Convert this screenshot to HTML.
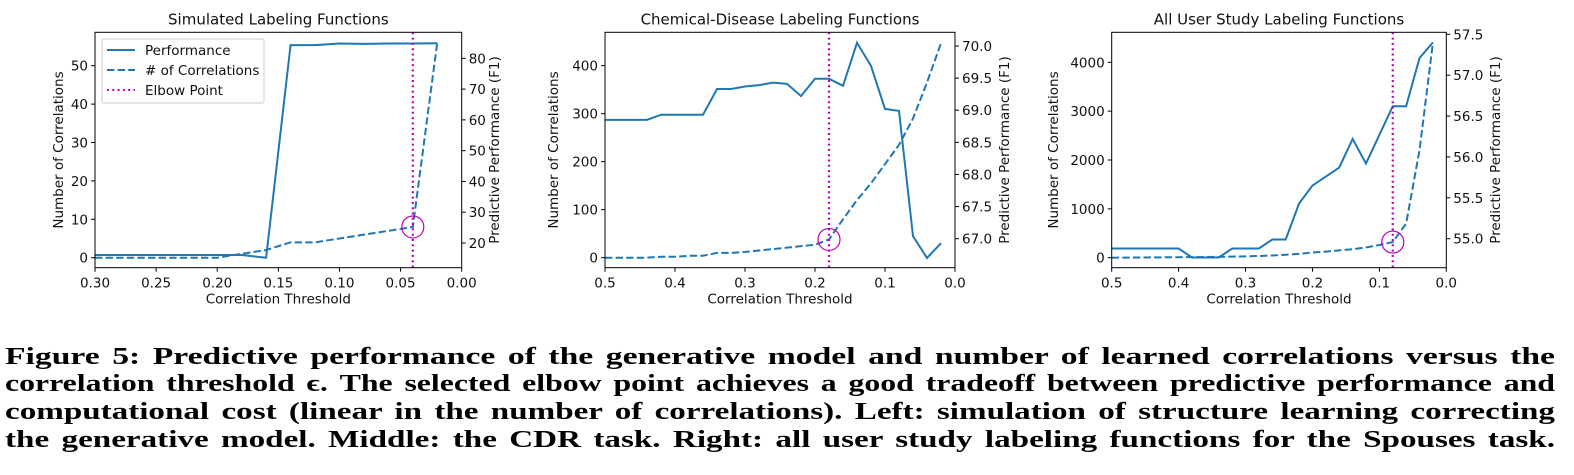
<!DOCTYPE html>
<html><head><meta charset="utf-8">
<style>
html,body{margin:0;padding:0;background:#fff;width:1574px;height:475px;overflow:hidden}
svg{position:absolute;left:0;top:0}
.cap{position:absolute;left:5px;font-family:"Liberation Serif",serif;font-weight:bold;font-size:24.5px;white-space:nowrap;line-height:28px;word-spacing:3px;transform-origin:0 0}
text{font-family:"DejaVu Sans","Liberation Sans",sans-serif;fill:#111}
</style></head><body>
<svg id="chart" width="1574" height="330"></svg>
<div class="cap" style="top:343px">Figure 5: Predictive performance of the generative model and number of learned correlations versus the</div>
<div class="cap" style="top:370px">correlation threshold ϵ. The selected elbow point achieves a good tradeoff between predictive performance and</div>
<div class="cap" style="top:398px">computational cost (linear in the number of correlations). Left: simulation of structure learning correcting</div>
<div class="cap" style="top:426px">the generative model. Middle: the CDR task. Right: all user study labeling functions for the Spouses task.</div>
<script>
// Panel 1 data
const p1Thresholds=[0.30,0.28,0.26,0.24,0.22,0.20,0.18,0.16,0.14,0.12,0.10,0.08,0.06,0.04,0.02];
const p1Performance=[16.1,16.1,16.1,16.1,16.1,16.1,16.1,15.2,84.3,84.3,84.8,84.7,84.8,84.8,84.9];
const p1Correlations=[0,0,0,0,0,0,1,2,4,4,5,6,7,8,56];
const p1LeftTicks=[0,10,20,30,40,50];
const p1RightTicks=[20,30,40,50,60,70,80];
const p1XTicks=[0.30,0.25,0.20,0.15,0.10,0.05,0.00];
const p1Elbow=0.04;
// Panel 2 data
const p2Thresholds=[0.50,0.48,0.46,0.44,0.42,0.40,0.38,0.36,0.34,0.32,0.30,0.28,0.26,0.24,0.22,0.20,0.18,0.16,0.14,0.12,0.10,0.08,0.06,0.04,0.02];
const p2Performance=[68.85,68.85,68.85,68.85,68.93,68.93,68.93,68.93,69.33,69.33,69.37,69.39,69.43,69.41,69.22,69.49,69.49,69.38,70.05,69.69,69.02,68.99,67.04,66.70,66.93];
const p2Correlations=[0,0,0,0,2,2,4,4,10,10,12,15,18,21,24,27,38,80,120,155,195,235,290,365,447];
const p2LeftTicks=[0,100,200,300,400];
const p2RightTicks=[67.0,67.5,68.0,68.5,69.0,69.5,70.0];
const p2XTicks=[0.5,0.4,0.3,0.2,0.1,0.0];
const p2Elbow=0.18;
// Panel 3 data
const p3Thresholds=[0.50,0.48,0.46,0.44,0.42,0.40,0.38,0.36,0.34,0.32,0.30,0.28,0.26,0.24,0.22,0.20,0.18,0.16,0.14,0.12,0.10,0.08,0.06,0.04,0.02];
const p3Performance=[54.88,54.88,54.88,54.88,54.88,54.88,54.77,54.77,54.77,54.88,54.88,54.88,54.99,54.99,55.43,55.65,55.76,55.87,56.22,55.92,56.27,56.62,56.62,57.21,57.40];
const p3Correlations=[0,2,4,6,8,10,12,15,18,22,28,35,45,60,80,105,125,150,175,210,260,320,700,2200,4400];
const p3LeftTicks=[0,1000,2000,3000,4000];
const p3RightTicks=[55.0,55.5,56.0,56.5,57.0,57.5];
const p3XTicks=[0.5,0.4,0.3,0.2,0.1,0.0];
const p3Elbow=0.08;

const svg=document.getElementById('chart');
const NS='http://www.w3.org/2000/svg';
function mk(tag,attrs,parent){const e=document.createElementNS(NS,tag);for(const k in attrs)e.setAttribute(k,attrs[k]);(parent||svg).appendChild(e);return e;}

function panel(cfg){
  const g=mk('g',{});
  
  
  const {x0,x1,y0,y1}=cfg;
  const sx=v=>x0+(cfg.xmax-v)/(cfg.xmax-cfg.xmin)*(x1-x0);
  const sl=v=>cfg.lPix0+(v-cfg.lVal0)*(cfg.lPix1-cfg.lPix0)/(cfg.lVal1-cfg.lVal0);
  const sr=v=>cfg.rPix0+(v-cfg.rVal0)*(cfg.rPix1-cfg.rPix0)/(cfg.rVal1-cfg.rVal0);
  const clip='clip'+cfg.name;
  const cp=mk('clipPath',{id:clip},g);mk('rect',{x:x0,y:y0,width:x1-x0,height:y1-y0},cp);
  const perf=mk('polyline',{points:cfg.t.map((t,i)=>sx(t)+','+sr(cfg.perf[i])).join(' '),fill:'none',stroke:'#1f77b4','stroke-width':2,'clip-path':`url(#${clip})`},g);
  
  
  const cor=mk('polyline',{points:cfg.t.map((t,i)=>sx(t)+','+sl(cfg.corr[i])).join(' '),fill:'none',stroke:'#1f77b4','stroke-width':2,'stroke-dasharray':'7.4,3.2','clip-path':`url(#${clip})`},g);
  
  
  const ex=sx(cfg.elbow);
  const el=mk('line',{x1:ex,x2:ex,y1:y0,y2:y1,stroke:'#bf00bf','stroke-width':2.2,'stroke-dasharray':'2,3.3'},g);
  
  
  const ei=cfg.t.findIndex(t=>Math.abs(t-cfg.elbow)<1e-9);
  const c=mk('circle',{cx:ex,cy:sl(cfg.corr[ei]),r:11,fill:'none',stroke:'#bf00bf','stroke-width':1.2},g);
  
  
  const fr=mk('rect',{x:x0,y:y0,width:x1-x0,height:y1-y0,fill:'none',stroke:'#000','stroke-width':1},g);
  
  
  cfg.xticks.forEach(v=>{const x=sx(v);mk('line',{x1:x,x2:x,y1:y1,y2:y1+4,stroke:'#000'},g);
    const tx=mk('text',{x:x,y:y1+20,'text-anchor':'middle','font-size':13.5},g);tx.textContent=v.toFixed(cfg.xdec);
    
    });
  cfg.lticks.forEach(v=>{const y=sl(v);mk('line',{x1:x0-4,x2:x0,y1:y,y2:y,stroke:'#000'},g);
    const tx=mk('text',{x:x0-7,y:y+5,'text-anchor':'end','font-size':13.5},g);tx.textContent=v;
    
    });
  cfg.rticks.forEach(v=>{const y=sr(v);mk('line',{x1:x1,x2:x1+4,y1:y,y2:y,stroke:'#000'},g);
    const tx=mk('text',{x:x1+7,y:y+5,'text-anchor':'start','font-size':13.5},g);tx.textContent=v.toFixed(cfg.rdec);
    
    });
  const tt=mk('text',{x:(x0+x1)/2,y:y0-8,'text-anchor':'middle','font-size':15},g);tt.textContent=cfg.title;
  
  
  const xl=mk('text',{x:(x0+x1)/2,y:y1+36,'text-anchor':'middle','font-size':13.5},g);xl.textContent='Correlation Threshold';
  
  
  const yl=mk('text',{x:0,y:0,'text-anchor':'middle','font-size':13.5,transform:`translate(${cfg.ylx},${(y0+y1)/2}) rotate(-90)`},g);yl.textContent='Number of Correlations';
  
  
  const yr=mk('text',{x:0,y:0,'text-anchor':'middle','font-size':13.5,transform:`translate(${cfg.yrx},${(y0+y1)/2}) rotate(-90)`},g);yr.textContent='Predictive Performance (F1)';
  
  
  if(cfg.legend){
    const lg=mk('g',{},g);
    
    
    mk('rect',{x:102,y:39,width:162,height:64,rx:2,fill:'#fff',stroke:'#ccc'},lg);
    const items=[['Performance',''],['# of Correlations','7.4,3.2'],['Elbow Point','2,3.3']];
    items.forEach((it,i)=>{const y=50+i*20;
      mk('line',{x1:107,x2:135,y1:y,y2:y,stroke:i==2?'#bf00bf':'#1f77b4','stroke-width':2,'stroke-dasharray':it[1]||'none'},lg);
      const tx=mk('text',{x:145,y:y+5,'font-size':13.5},lg);tx.textContent=it[0];
      
      });
  }
}
panel({name:'simulated-panel',title:'Simulated Labeling Functions',x0:95,x1:461.7,y0:32.3,y1:267.7,xmin:0,xmax:0.30,xdec:2,
  t:p1Thresholds,perf:p1Performance,corr:p1Correlations,lticks:p1LeftTicks,rticks:p1RightTicks,rdec:0,xticks:p1XTicks,elbow:p1Elbow,
  lVal0:0,lVal1:50,lPix0:257.7,lPix1:65.7,rVal0:20,rVal1:80,rPix0:243,rPix1:58.3,ylx:63,yrx:499,legend:true});
panel({name:'chemical-disease-panel',title:'Chemical-Disease Labeling Functions',x0:605,x1:955,y0:32.3,y1:267.7,xmin:0,xmax:0.5,xdec:1,
  t:p2Thresholds,perf:p2Performance,corr:p2Correlations,lticks:p2LeftTicks,rticks:p2RightTicks,rdec:1,xticks:p2XTicks,elbow:p2Elbow,
  lVal0:0,lVal1:400,lPix0:257.7,lPix1:65.7,rVal0:67,rVal1:70,rPix0:238.7,rPix1:46,ylx:558,yrx:1009});
panel({name:'user-study-panel',title:'All User Study Labeling Functions',x0:1111.7,x1:1446.3,y0:32.3,y1:267.7,xmin:0,xmax:0.5,xdec:1,
  t:p3Thresholds,perf:p3Performance,corr:p3Correlations,lticks:p3LeftTicks,rticks:p3RightTicks,rdec:1,xticks:p3XTicks,elbow:p3Elbow,
  lVal0:0,lVal1:4000,lPix0:257.7,lPix1:62.3,rVal0:55,rVal1:57.5,rPix0:238.7,rPix1:34.3,ylx:1058,yrx:1500});

// stretch caption lines horizontally to full width
document.querySelectorAll('.cap').forEach(d=>{
  const w=d.getBoundingClientRect().width;
  d.style.transform='scaleX('+(1550/w)+')';
});
</script>
</body></html>
